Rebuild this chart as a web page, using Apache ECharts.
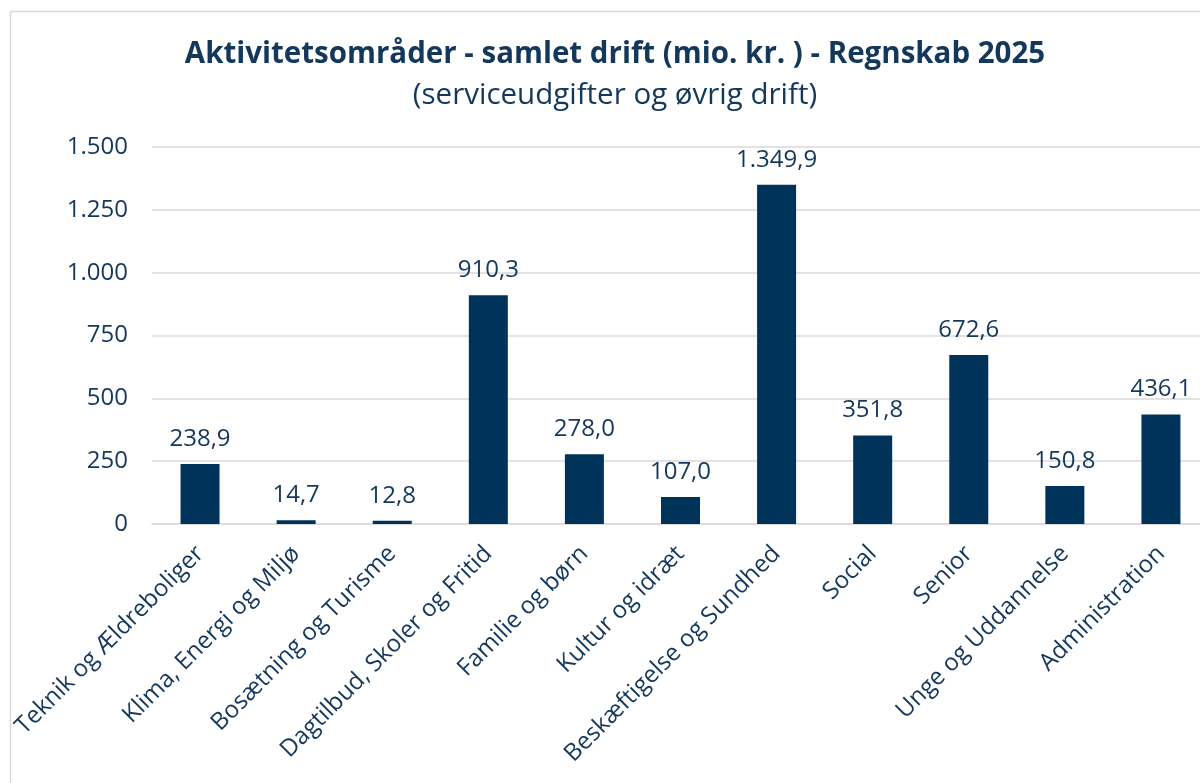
<!DOCTYPE html>
<html>
<head>
<meta charset="utf-8">
<script src="https://cdn.jsdelivr.net/npm/echarts@6/dist/echarts.min.js"></script>
<style>
  html, body { margin: 0; padding: 0; background: #fff; }
  #main { width: 1200px; height: 783px; }
</style>
</head>
<body>
<div id="main"></div>
<script>
var categories = [
  'Teknik og Ældreboliger',
  'Klima, Energi og Miljø',
  'Bosætning og Turisme',
  'Dagtilbud, Skoler og Fritid',
  'Familie og børn',
  'Kultur og idræt',
  'Beskæftigelse og Sundhed',
  'Social',
  'Senior',
  'Unge og Uddannelse',
  'Administration'
];
var values = [238.9, 14.7, 12.8, 910.3, 278.0, 107.0, 1349.9, 351.8, 672.6, 150.8, 436.1];
var yTicks = [0, 250, 500, 750, 1000, 1250, 1500];

var textColor = '#14375c';
var barColor = '#003359';

// dansk talformat: 1.349,9
function daNum(v, dec) {
  var s = v.toFixed(dec);
  var parts = s.split('.');
  var intPart = parts[0].replace(/\B(?=(\d{3})+(?!\d))/g, '.');
  return parts.length > 1 ? intPart + ',' + parts[1] : intPart;
}

var chart = echarts.init(document.getElementById('main'));
chart.setOption({
  animation: false,
  textStyle: { fontFamily: 'Open Sans' },
  graphic: [{
    type: 'rect',
    shape: { x: 10.5, y: 11.5, width: 1300, height: 900 },
    style: { fill: 'none', stroke: '#d9d9d9', lineWidth: 1.5 },
    silent: true
  }],
  title: {
    text: 'Aktivitetsområder - samlet drift (mio. kr. ) - Regnskab 2025',
    subtext: '(serviceudgifter og øvrig drift)',
    left: 610,
    textAlign: 'center',
    top: 35,
    itemGap: 11,
    textStyle: { color: textColor, fontSize: 29.5, fontWeight: 'bold', fontFamily: 'Open Sans' },
    subtextStyle: { color: textColor, fontSize: 29.5, fontFamily: 'Open Sans' }
  },
  grid: { left: 152, top: 147, width: 1057, height: 377, outerBoundsMode: 'none' },
  xAxis: {
    type: 'category',
    data: categories,
    axisTick: { show: false },
    axisLine: { lineStyle: { color: '#d9d9d9', width: 1.5 } },
    axisLabel: {
      rotate: 45,
      margin: 26,
      interval: 0,
      color: textColor,
      fontSize: 24
    }
  },
  yAxis: {
    type: 'value',
    min: yTicks[0],
    max: yTicks[yTicks.length - 1],
    interval: 250,
    axisLine: { show: false },
    axisTick: { show: false },
    splitLine: { lineStyle: { color: '#d9d9d9', width: 1.5 } },
    axisLabel: {
      color: textColor,
      fontSize: 24,
      margin: 24,
      formatter: function (v) { return daNum(v, 0); }
    }
  },
  series: [{
    type: 'bar',
    data: values,
    barWidth: 39,
    itemStyle: { color: barColor },
    label: {
      show: true,
      position: 'top',
      distance: 13,
      color: textColor,
      fontSize: 24,
      formatter: function (p) { return daNum(p.value, 1); }
    }
  }]
});
</script>
</body>
</html>
